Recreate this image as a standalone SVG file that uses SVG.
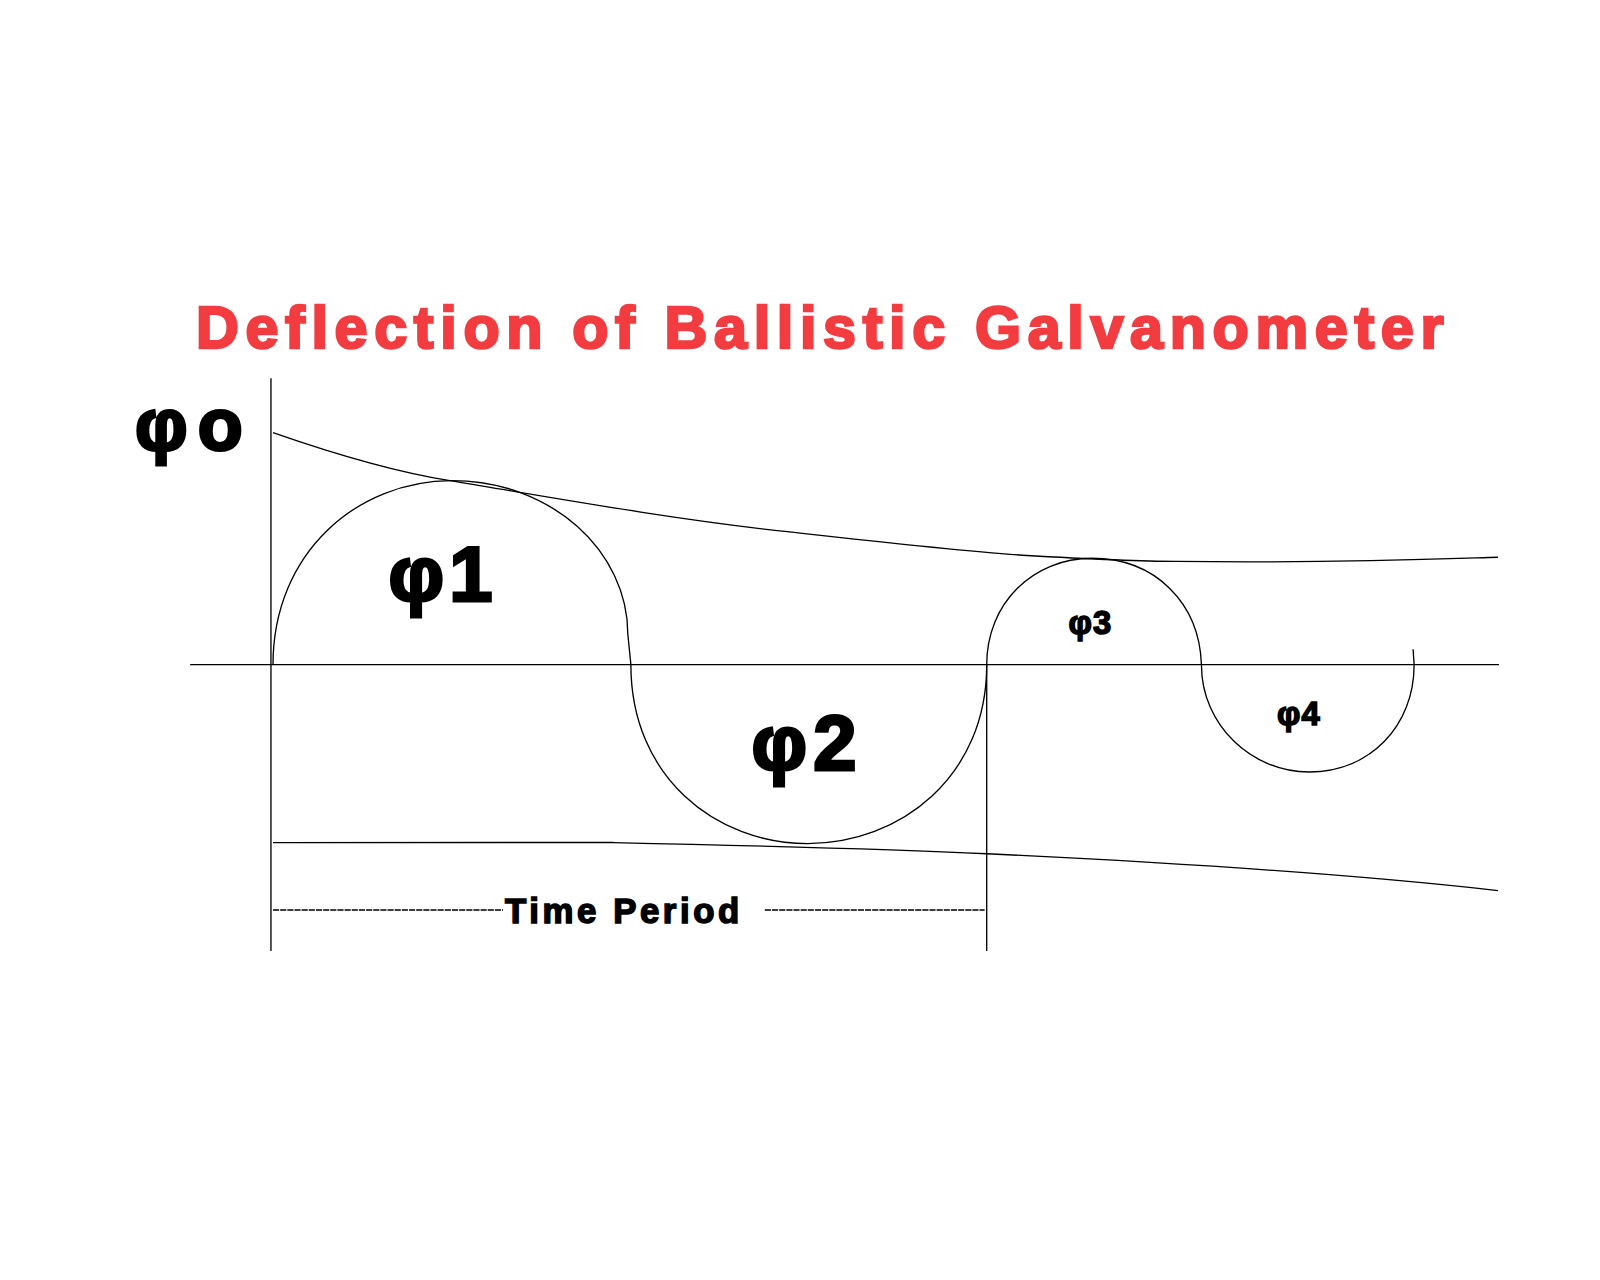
<svg xmlns="http://www.w3.org/2000/svg" width="1600" height="1280" viewBox="0 0 1600 1280">
<style>
.l{fill:none;stroke:#000;stroke-width:1.3}
.t{font-family:"Liberation Sans",Arial,sans-serif;font-weight:bold;fill:#000;stroke:#000;stroke-width:1.5}
</style>
<rect width="1600" height="1280" fill="#fff"/>
<g transform="scale(1.0225)">
<text x="805" y="340" text-anchor="middle" class="t" style="fill:#f23c40;stroke:#f23c40;stroke-width:2.5;font-size:58px;letter-spacing:6.5px">Deflection of Ballistic Galvanometer</text>
<g id="axes">
<line class="l" x1="265" y1="370" x2="265" y2="930"/>
<line class="l" x1="186" y1="650" x2="1466" y2="650"/>
<line class="l" x1="965" y1="650" x2="965" y2="930"/>
</g>
<g id="connectors">
<path class="l" d="M267,650 C267,540 350,470 442,470 C540,470 614,540 614,620 L617,650 C617,760 700,825 790,825 C880,825 965,760 965,650 C965,590 1010,546 1068,546 C1130,546 1173,590 1175,650 C1175,710 1225,755 1280,755 C1340,755 1383,710 1383,650 L1382,635"/>
<path class="l" d="M267,423 C330,445 390,462 440,470 C560,490 660,508 770,520 C860,530 940,539 1000,543 C1070,547 1110,549 1150,549 C1300,551 1400,547 1465,545"/>
<path class="l" d="M267,824 C400,824 500,823 600,824 C780,828 880,831 965,835 C1200,846 1350,858 1465,871"/>
<line class="l" x1="267" y1="890" x2="492" y2="890" stroke-dasharray="6,1"/>
<line class="l" x1="748" y1="890" x2="963" y2="890" stroke-dasharray="6,1"/>
</g>
<g id="labels">
<text x="132" y="440" class="t" style="font-size:72px;letter-spacing:10px;stroke-width:3">φo</text>
<text x="380" y="588" class="t" style="font-size:76px;letter-spacing:5px;stroke-width:3">φ1</text>
<text x="735" y="753" class="t" style="font-size:76px;letter-spacing:6px;stroke-width:3">φ2</text>
<text x="1045" y="620" class="t" style="font-size:32px;letter-spacing:1px">φ3</text>
<text x="1249" y="709" class="t" style="font-size:32px;letter-spacing:1px">φ4</text>
<text x="494" y="903" class="t" style="font-size:34px;letter-spacing:3.5px">Time Period</text>
</g>
</g>
</svg>
